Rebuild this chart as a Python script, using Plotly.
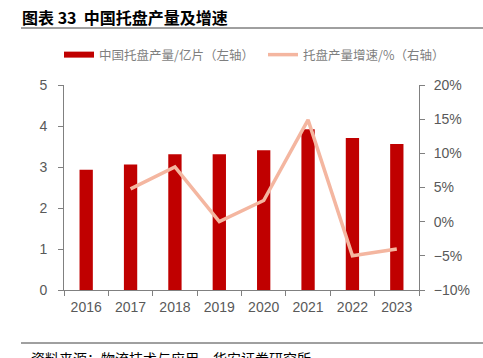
import plotly.graph_objects as go

years = ["2016", "2017", "2018", "2019", "2020", "2021", "2022", "2023"]
output_bn = [2.93, 3.06, 3.31, 3.31, 3.41, 3.92, 3.71, 3.56]
growth_pct = [None, 4.8, 8.0, 0.0, 3.1, 14.9, -5.0, -4.0]

bar_name = "中国托盘产量/亿片（左轴）"
line_name = "托盘产量增速/%（右轴）"
RED = "#C00000"
SALMON = "#F4B6A0"
CJK = "Noto Sans CJK SC"

# body margin is removed via post_script, so figure fills the window
W, H = 483, 358
L, T, PW, PH = 64, 85, 355, 205
R = W - L - PW
B = H - T - PH

def px_x(x):  # page px -> paper coords
    return (x - L) / PW

def px_y(y):
    return 1 - (y - T) / PH

fig = go.Figure()
fig.add_trace(go.Bar(x=years, y=output_bn, marker=dict(color=RED, line=dict(width=0)),
                     width=0.3, showlegend=False, name=bar_name))
fig.add_trace(go.Scatter(x=[None], y=[None], mode="lines", line=dict(color=RED, width=6),
                         name=bar_name, legend="legend"))
fig.add_trace(go.Scatter(x=years, y=growth_pct, mode="lines", yaxis="y2",
                         line=dict(color=SALMON, width=3.5), name=line_name,
                         legend="legend2"))

axis_font = dict(family="Liberation Sans, Arial", size=14, color="#595959")
leg_font = dict(family=CJK, size=12.5, color="#7f7f7f")
fig.update_layout(
    width=W, height=H,
    margin=dict(l=L, r=R, t=T, b=B, autoexpand=False),
    plot_bgcolor="white", paper_bgcolor="white",
    xaxis=dict(type="category", showline=True, linecolor="#808080", linewidth=1,
               ticks="outside", tickson="boundaries", ticklen=5, tickcolor="#808080",
               tickfont=axis_font, showgrid=False, ticklabelstandoff=4),
    yaxis=dict(range=[0, 5], dtick=1, showline=True, linecolor="#808080", linewidth=1,
               ticks="outside", ticklen=5, tickcolor="#808080", tickfont=axis_font,
               showgrid=False, zeroline=False, ticklabelstandoff=8),
    yaxis2=dict(range=[-10, 20], dtick=5, overlaying="y", side="right", showline=True,
                linecolor="#808080", linewidth=1, ticks="outside", ticklen=5,
                tickcolor="#808080", ticksuffix="%", tickfont=axis_font,
                showgrid=False, zeroline=False, ticklabelstandoff=6),
    legend=dict(orientation="h", x=px_x(59), xanchor="left", y=px_y(55), yanchor="middle",
                font=leg_font, itemwidth=30, bgcolor="rgba(0,0,0,0)"),
    legend2=dict(orientation="h", x=px_x(263), xanchor="left", y=px_y(55), yanchor="middle",
                 font=leg_font, itemwidth=30, bgcolor="rgba(0,0,0,0)"),
    showlegend=True,
    bargap=0.7,
)

fig.add_annotation(text="<b>图表 33  中国托盘产量及增速</b>", xref="paper", yref="paper",
                   x=px_x(21), y=px_y(17), xanchor="left", yanchor="middle", borderpad=0,
                   showarrow=False, font=dict(family=CJK, size=16, color="#000000"))
fig.add_shape(type="line", xref="paper", yref="paper", x0=px_x(21), x1=px_x(483),
              y0=px_y(28), y1=px_y(28), line=dict(color="#404040", width=1))
fig.add_shape(type="line", xref="paper", yref="paper", x0=px_x(21), x1=px_x(483),
              y0=px_y(343), y1=px_y(343), line=dict(color="#404040", width=1))
fig.add_annotation(text="资料来源：物流技术与应用，华安证券研究所", xref="paper", yref="paper",
                   x=px_x(30), y=px_y(347), xanchor="left", yanchor="top", borderpad=0,
                   showarrow=False, font=dict(family=CJK, size=14, color="#000000"))

fig.write_html("out.html", config={"displayModeBar": False},
               post_script="document.body.style.margin='0';document.body.style.overflow='hidden';")
